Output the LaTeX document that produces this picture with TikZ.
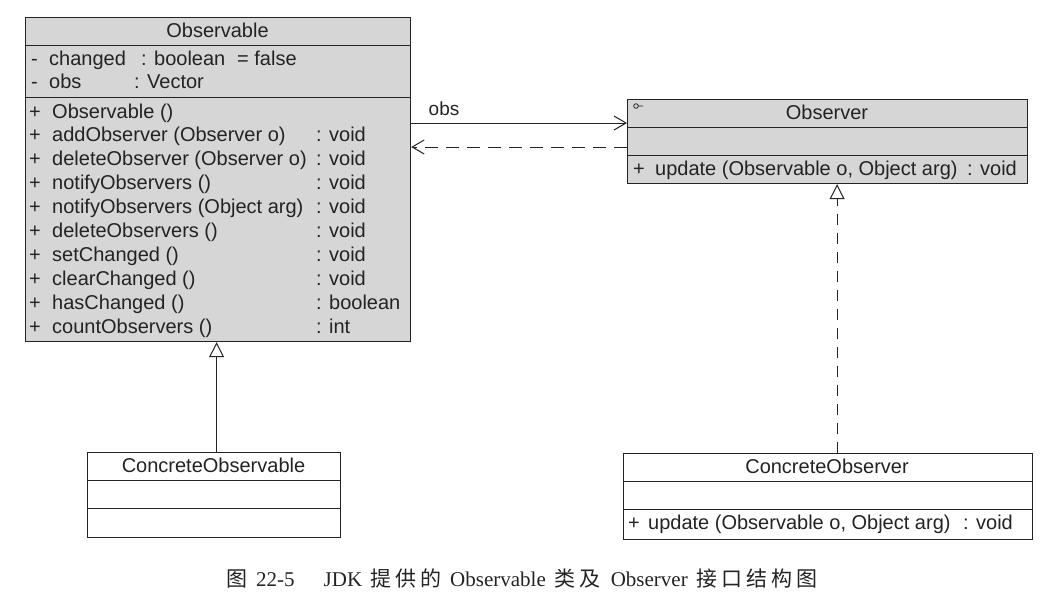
\documentclass[tikz,border=0pt]{standalone}
\usepackage{fontspec}
\setmainfont{Liberation Sans}
\newfontfamily\capserif{Liberation Serif}
\newfontfamily\cjk{Noto Sans CJK SC}
\usetikzlibrary{arrows.meta, positioning, calc}
\definecolor{lineColor}{RGB}{35, 35, 35}
\definecolor{classFill}{RGB}{214, 214, 214}

\begin{document}
\begin{tikzpicture}[
    x=1pt, y=-1pt,
    classbox/.style={rectangle, draw=lineColor, line width=1.2pt, anchor=north west, inner sep=0pt},
    classname/.style={anchor=base, inner sep=0pt, font=\fontsize{20}{24}\selectfont, text=lineColor},
    member/.style={anchor=base west, inner sep=0pt, font=\fontsize{20}{24}\selectfont, text=lineColor},
    sep/.style={draw=lineColor, line width=1pt},
    assoc/.style={draw=lineColor, line width=1pt, -{Straight Barb[length=12pt, width=14pt, line width=1pt]}},
    depend/.style={assoc, dash pattern=on 13pt off 8pt},
    inherit/.style={draw=lineColor, line width=1pt, -{Triangle[open, length=15pt, width=15pt, fill=white]}},
    realize/.style={inherit, dash pattern=on 11pt off 8pt}
]
\fill[white] (0,0) rectangle (1060,598);
\useasboundingbox (0,0) rectangle (1060,598);

% Nodes
\node (observable) [classbox, fill=classFill, minimum width=385pt, minimum height=324pt] at (25,17) {};
\node (observer) [classbox, fill=classFill, minimum width=400pt, minimum height=84pt] at (627,99) {};
\node (cobservable) [classbox, fill=white, minimum width=253pt, minimum height=85pt] at (87,452) {};
\node (cobserver) [classbox, fill=white, minimum width=409pt, minimum height=86pt] at (623,453) {};

% Observable
\node (observable-name) [classname] at (217.5,37) {Observable};
\draw[sep] (25,45) -- (410,45);
\draw[sep] (25,97) -- (410,97);
\node (attr1-vis) [member] at (31,65) {-};
\node (attr1) [member] at (49,65) {changed};
\node (attr1-type) [member] at (141,65) {: boolean};
\node (attr1-init) [member] at (237,65) {= false};
\node (attr2-vis) [member] at (31,88) {-};
\node (attr2) [member] at (49,88) {obs};
\node (attr2-type) [member] at (134,88) {: Vector};
\foreach \op/\ret [count=\i] in {{Observable ()}/{},
    {addObserver (Observer o)}/{: void},
    {deleteObserver (Observer o)}/{: void},
    {notifyObservers ()}/{: void},
    {notifyObservers (Object arg)}/{: void},
    {deleteObservers ()}/{: void},
    {setChanged ()}/{: void},
    {clearChanged ()}/{: void},
    {hasChanged ()}/{: boolean},
    {countObservers ()}/{: int}} {
  \pgfmathsetmacro\rowy{118+23.9*(\i-1)}
  \node (op\i-vis) [member] at (29,\rowy) {+};
  \node (op\i) [member] at (52,\rowy) {\op};
  \node (op\i-ret) [member] at (316,\rowy) {\ret};
}

% Observer
\draw[lineColor, line width=0.8pt] (636,106) circle (2.3pt) (638.3,106) -- (643,106);
\node (observer-name) [classname] at (827,119) {Observer};
\draw[sep] (627,127) -- (1027,127);
\draw[sep] (627,155) -- (1027,155);
\node (update-vis) [member] at (633,175) {+};
\node (update) [member] at (655,175) {update (Observable o, Object arg)};
\node (update-ret) [member] at (967,175) {: void};

% ConcreteObservable
\node (cobservable-name) [classname] at (213.5,472) {ConcreteObservable};
\draw[sep] (87,480) -- (340,480);
\draw[sep] (87,508) -- (340,508);

% ConcreteObserver
\node (cobserver-name) [classname] at (827,473) {ConcreteObserver};
\draw[sep] (623,481) -- (1032,481);
\draw[sep] (623,509) -- (1032,509);
\node (cupdate-vis) [member] at (628,529) {+};
\node (cupdate) [member] at (648,529) {update (Observable o, Object arg)};
\node (cupdate-ret) [member] at (963,529) {: void};

% Connectors
\coordinate (obs-y) at ($(observer.north west)+(0,24)$);
\coordinate (dep-y) at ($(observer.north west)+(0,48)$);
\draw[assoc] (observable.east |- obs-y) -- (obs-y)
    node (obs-label) [pos=0, anchor=south west, xshift=17pt, yshift=7pt, inner sep=0pt, font=\fontsize{19}{22}\selectfont, text=lineColor] {obs};
\draw[depend] (dep-y) -- (observable.east |- dep-y);
\draw[inherit] ([xshift=2.5pt]cobservable.north) -- ([xshift=2.5pt]cobservable.north |- observable.south);
\draw[realize] ([xshift=9pt]cobserver.north) -- ([xshift=9pt]cobserver.north |- observer.south);

% Caption
\node (caption) [anchor=base west, inner sep=0pt, text=lineColor] at (226,586) {\fontsize{21}{24}\selectfont
  \cjk\fontsize{21}{24}\selectfont 图\hspace{9pt}\capserif\fontsize{21}{24}\selectfont 22-5\hspace{29pt}JDK\hspace{8pt}\cjk\fontsize{21}{24}\selectfont 提\hspace{4pt}供\hspace{4pt}的\hspace{9pt}\capserif\fontsize{21}{24}\selectfont Observable\hspace{9pt}\cjk\fontsize{21}{24}\selectfont 类\hspace{4pt}及\hspace{10pt}\capserif\fontsize{21}{24}\selectfont Observer\hspace{9pt}\cjk\fontsize{21}{24}\selectfont 接\hspace{4pt}口\hspace{4pt}结\hspace{4pt}构\hspace{4pt}图};

\end{tikzpicture}
\end{document}
